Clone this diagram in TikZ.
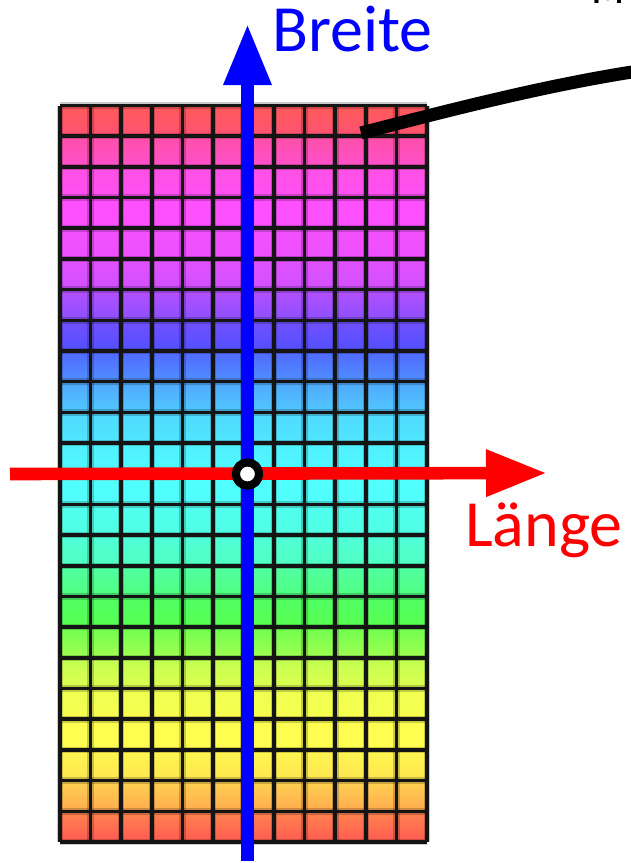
\documentclass[tikz,border=0pt]{standalone}
\usepackage{fontspec}
\setmainfont{Carlito}
\usetikzlibrary{arrows.meta}
\tikzset{
  gridhalo/.style={line width=6.5pt, draw=black, opacity=0.2},
  gridline/.style={line width=3.6pt, draw=black!92},
  axisblue/.style={line width=12.6pt, draw={rgb,255:red,0;green,0;blue,255}, -{Triangle[length=61pt,width=45pt]}},
  axisred/.style={line width=12.6pt, draw={rgb,255:red,255;green,0;blue,0}, -{Triangle[length=61pt,width=44pt]}},
  lbl/.style={anchor=base west, inner sep=0pt, font=\fontsize{66}{72}\selectfont},
}
\begin{document}
\begin{tikzpicture}[x=1pt,y=-1pt]
\useasboundingbox (0,0) rectangle (631,863);
\clip (0,0) rectangle (631,863);
% cell field, one gradient per row
\foreach \k/\ct/\cb in {
  0/FF5A5A/FF5272, 1/FF50A8/FF50CC, 2/FF50E4/FF50F4, 3/FF50FF/FC50FF,
  4/F450FF/EC50FF, 5/E250FF/D050FF, 6/B450FF/8C50FF, 7/7250FF/5250FF,
  8/5068FF/5090FF, 9/50A8FF/50C8FF, 10/50DAFF/50E6FF, 11/50F0FF/50F8FF,
  12/50FFFF/50FFFA, 13/50FFF0/50FFE2, 14/50FFD8/50FFC0, 15/50FFA2/50FF80,
  16/50FF64/58FF50, 17/70FF50/A0FF50, 18/C0FF50/E0FF50, 19/EEFF50/F8FF50,
  20/FFFF50/FFFC50, 21/FFF650/FFE650, 22/FFD250/FFAA50, 23/FF8450/FF5A50} {
  \definecolor{rowtop}{HTML}{\ct}
  \definecolor{rowbot}{HTML}{\cb}
  \shade[top color=rowtop, bottom color=rowbot] (60,{105.5+\k*30.6875}) rectangle (427,{105.5+(\k+1)*30.6875});
}
\foreach \i in {0,...,12} {
  \draw[gridhalo] ({60+\i*30.5833},105.5) -- ({60+\i*30.5833},842);
}
\foreach \j in {0,...,24} {
  \draw[gridhalo] (60,{105.5+\j*30.6875}) -- (427,{105.5+\j*30.6875});
}
\foreach \i in {0,...,12} {
  \draw[gridline] ({60+\i*30.5833},105.5) -- ({60+\i*30.5833},842);
}
\foreach \j in {0,...,24} {
  \draw[gridline] (60,{105.5+\j*30.6875}) -- (427,{105.5+\j*30.6875});
}
% pointer line
\coordinate (ps) at (361,133);
\coordinate (pe) at (645,70);
\draw[line width=13pt, line cap=butt] (ps) .. controls (450,110) and (550,84) .. (pe);
% partial letter at top right
\node[anchor=base west, inner sep=0pt, font=\bfseries\fontsize{36}{40}\selectfont] (mtxt) at (592,3) {M};
% axes
\coordinate (bs) at (247.5,861);
\coordinate (be) at (247.5,24);
\coordinate (rs) at (10,474);
\coordinate (re) at (547,473);
\draw[axisblue] (bs) -- (be);
\draw[axisred] (rs) -- (re);
\node[circle, draw=black, line width=8.2pt, fill=white, minimum size=23.2pt, inner sep=0pt] (orig) at (247.5,474) {};
% labels
\node[lbl, text={rgb,255:red,0;green,0;blue,255}] (breite) at (272,51) {Breite};
\node[lbl, text={rgb,255:red,255;green,0;blue,0}] (laenge) at (465,546) {Länge};
\end{tikzpicture}
\end{document}
